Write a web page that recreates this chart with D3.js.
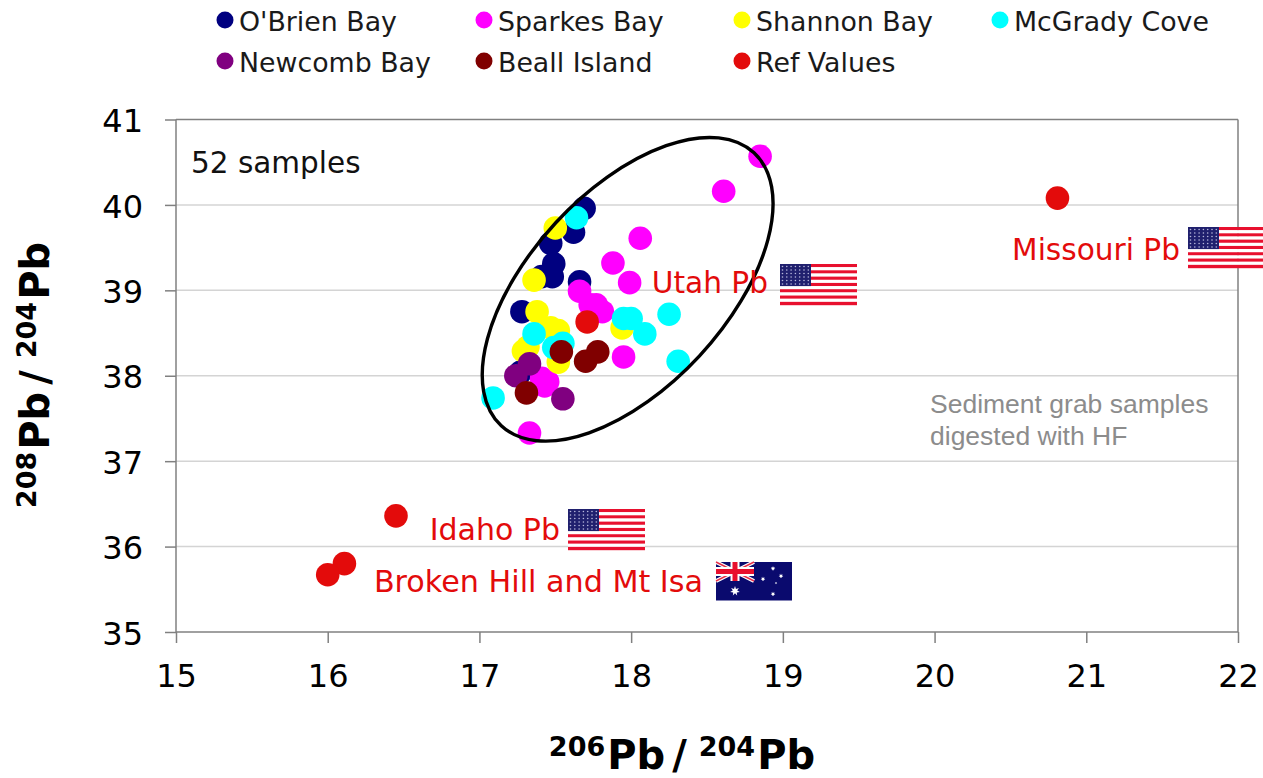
<!DOCTYPE html>
<html><head><meta charset="utf-8">
<script src="https://cdnjs.cloudflare.com/ajax/libs/d3/7.8.5/d3.min.js"></script>
<style>html,body{margin:0;background:#fff}svg{display:block}text{font-family:"DejaVu Sans",sans-serif}</style>
</head><body><svg id="c" width="1263" height="778"></svg>
<script>
const obrien=[[17.69,39.96],[17.62,39.68],[17.47,39.55],[17.49,39.31],[17.48,39.16],[17.41,39.16],[17.66,39.10],[17.28,38.75],[17.27,38.04]];
const sparkes=[[18.85,40.57],[18.61,40.16],[18.06,39.61],[17.88,39.32],[17.99,39.09],[17.66,38.99],[17.73,38.83],[17.77,38.83],[17.81,38.75],[17.95,38.22],[17.45,37.93],[17.41,37.97],[17.43,37.88],[17.33,37.33]];
const shannon=[[17.50,39.73],[17.36,39.12],[17.38,38.75],[17.52,38.53],[17.47,38.56],[17.29,38.29],[17.32,38.34],[17.52,38.16],[17.94,38.56]];
const mcgrady=[[17.64,39.85],[17.36,38.49],[17.49,38.33],[17.55,38.38],[17.95,38.67],[18.0,38.67],[18.09,38.49],[18.25,38.72],[18.31,38.17],[17.09,37.74]];
const newcomb=[[17.33,38.14],[17.24,38.0],[17.55,37.73]];
const beall=[[17.54,38.28],[17.78,38.28],[17.70,38.17],[17.31,37.80]];
const refValues=[[17.71,38.63],[20.81,40.08],[16.45,36.36],[16.11,35.80],[16.0,35.67]];
const seriesNames=["O'Brien Bay","Sparkes Bay","Shannon Bay","McGrady Cove","Newcomb Bay","Beall Island","Ref Values"];
const seriesData=[obrien,sparkes,shannon,mcgrady,newcomb,beall,refValues];
const seriesColors=["#000080","#ff00ff","#ffff00","#00ffff","#800080","#800000","#e30b0b"];
const xTicks=[15,16,17,18,19,20,21,22];
const yTicks=[35,36,37,38,39,40,41];

const svg=d3.select("#c");
const x=d3.scaleLinear().domain([15,22]).range([176,1238]);
const y=d3.scaleLinear().domain([35,41]).range([632,119.5]);
const AXC="#808080",RED="#e30b0b";

// grid
svg.append("g").selectAll("line").data(yTicks.slice(1)).join("line")
 .attr("x1",x(15)).attr("x2",x(22)).attr("y1",d=>y(d)).attr("y2",d=>y(d))
 .attr("stroke",d=>d==41?AXC:"#d4d4d4").attr("stroke-width",1.5);
svg.append("line").attr("x1",x(22)).attr("x2",x(22)).attr("y1",y(41)).attr("y2",y(35)).attr("stroke",AXC).attr("stroke-width",1.5);

// axes
const gx=svg.append("g").attr("transform",`translate(0,${y(35)})`).call(d3.axisBottom(x).tickValues(xTicks).tickSize(11).tickPadding(21).tickFormat(d3.format("d")));
const gy=svg.append("g").attr("transform",`translate(${x(15)},0)`).call(d3.axisLeft(y).tickValues(yTicks).tickSize(11).tickPadding(22).tickFormat(d3.format("d")));
[gx,gy].forEach(g=>{g.selectAll("path,line").attr("stroke",AXC).attr("stroke-width",1.5);
 g.selectAll("text").attr("fill","#000").style("font-size","32px").style("font-family","'DejaVu Sans',sans-serif");});
gy.selectAll("text").attr("dy","0.38em");
gx.select("path").attr("d",`M${x(15)},0H${x(22)}`);
gy.select("path").attr("d",`M0,${y(41)}V${y(35)}`);

// points
seriesData.forEach((s,i)=>{
 svg.append("g").selectAll("circle").data(s).join("circle")
  .attr("cx",d=>x(d[0])).attr("cy",d=>y(d[1])).attr("r",11.8).attr("fill",seriesColors[i]);
});

// ellipse
const ec=[17.977,39.012];
svg.append("ellipse").attr("cx",x(ec[0])).attr("cy",y(ec[1])).attr("rx",186).attr("ry",98)
 .attr("transform",`rotate(-47.2 ${x(ec[0])} ${y(ec[1])})`).attr("fill","none").attr("stroke","#000").attr("stroke-width",3.4);

// legend
const legendPos=[[225,21],[484,21],[742,21],[1000,21],[225,62],[484,62],[742,62]];
seriesNames.forEach((n,i)=>{
 const [lx,ly]=legendPos[i];
 svg.append("circle").attr("cx",lx).attr("cy",ly-1).attr("r",8.5).attr("fill",seriesColors[i]);
 svg.append("text").attr("x",lx+14).attr("y",ly+9.5).attr("font-size",26.8).attr("fill","#1a1a1a").text(n);
});

// annotations
svg.append("text").attr("x",191).attr("y",173).attr("font-size",29.5).attr("fill","#111").text("52 samples");
const labels=[["Utah Pb",768,293,29.6],["Missouri Pb",1180,260,29.6],["Idaho Pb",560,540,30],["Broken Hill and Mt Isa",703,592,30.2]];
labels.forEach(l=>svg.append("text").attr("x",l[1]).attr("y",l[2]).attr("text-anchor","end").attr("font-size",l[3]).attr("fill",RED).text(l[0]));
["Sediment grab samples","digested with HF"].forEach((t,i)=>svg.append("text").attr("x",930).attr("y",413+i*32).attr("font-size",26.5).style("font-family","'Liberation Sans',sans-serif").attr("fill","#8c8c8c").text(t));

// flags
function usFlag(fx,fy){
 const g=svg.append("g").attr("transform",`translate(${fx},${fy})`);
 const W=77,H=41,sh=H/13;
 d3.range(13).forEach(i=>g.append("rect").attr("y",i*sh).attr("width",W).attr("height",sh+0.2).attr("fill",i%2?"#fff":"#e8102e"));
 const chH=sh*7;
 g.append("rect").attr("width",31).attr("height",chH).attr("fill","#20206e");
 d3.range(6).forEach(r=>d3.range(7).forEach(c=>g.append("circle").attr("cx",2.5+c*4.3).attr("cy",2.5+r*3.5).attr("r",0.8).attr("fill","#b8b8dc")));
}
usFlag(780,264);usFlag(1188,227);usFlag(568,509);
function star(g,cx,cy,r){
 const pts=d3.range(14).map(i=>{const a=i*Math.PI/7-Math.PI/2,q=i%2?r*0.45:r;return [cx+q*Math.cos(a),cy+q*Math.sin(a)].join(",");}).join(" ");
 g.append("polygon").attr("points",pts).attr("fill","#fff");
}
(function(){
 const g=svg.append("g").attr("transform","translate(716,562)");
 g.append("rect").attr("width",76).attr("height",38.5).attr("fill","#0a0a6e");
 const w=38,h=19;
 [[0,0,w,h],[w,0,0,h]].forEach(a=>{
  g.append("line").attr("x1",a[0]).attr("y1",a[1]).attr("x2",a[2]).attr("y2",a[3]).attr("stroke","#fff").attr("stroke-width",4);
  g.append("line").attr("x1",a[0]).attr("y1",a[1]).attr("x2",a[2]).attr("y2",a[3]).attr("stroke","#e8304a").attr("stroke-width",1.4);
 });
 g.append("rect").attr("x",w/2-4.5).attr("width",9).attr("height",h).attr("fill","#fff");
 g.append("rect").attr("y",h/2-4.5).attr("width",w).attr("height",9).attr("fill","#fff");
 g.append("rect").attr("x",w/2-2.5).attr("width",5).attr("height",h).attr("fill","#e8102e");
 g.append("rect").attr("y",h/2-2.5).attr("width",w).attr("height",5).attr("fill","#e8102e");
 star(g,19,29,5);
 [[57,6.5,2.4],[65,14,2.4],[47,17,2.4],[60,21,1.3],[57,32,2.4]].forEach(s=>star(g,s[0],s[1],s[2]));
})();

// axis titles
function title(t,attrs){
 const el=svg.append("text").attr("font-weight","bold").attr("font-size",40).attr("fill","#000").attr("text-anchor","middle");
 Object.entries(attrs).forEach(([k,v])=>el.attr(k,v));
 el.append("tspan").attr("font-size",27).attr("dy",-13).text(t[0]);
 el.append("tspan").attr("dy",13).attr("dx",2).text("Pb");
 el.append("tspan").attr("dx",7).text("/");
 el.append("tspan").attr("font-size",27).attr("dy",-13).attr("dx",12).text(t[1]);
 el.append("tspan").attr("dy",13).attr("dx",2).text("Pb");
}
title(["206","204"],{x:682,y:769});
title(["208","204"],{transform:"translate(49,375) rotate(-90)"});
</script></body></html>
